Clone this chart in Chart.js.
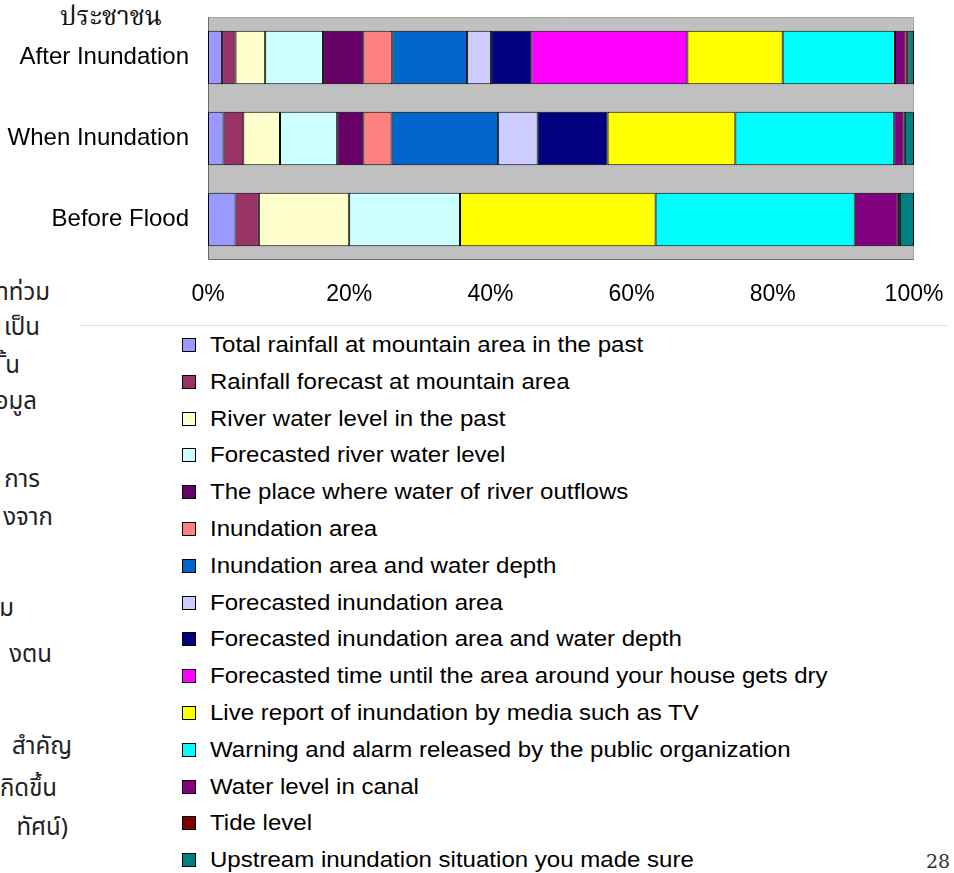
<!DOCTYPE html>
<html>
<head>
<meta charset="utf-8">
<script src="https://cdn.jsdelivr.net/npm/chart.js@4.4.1/dist/chart.umd.min.js"></script>
<style>
  html, body { margin: 0; padding: 0; background: #fff; }
  body { width: 954px; height: 873px; position: relative; overflow: hidden; font-family: "Liberation Sans", Arial, sans-serif; }
  #chart { position: absolute; left: 0; top: 0; }
  .side { position: absolute; white-space: nowrap; font-family: "Noto Sans Thai", "Loma", "Garuda", "Tlwg Typo", "DejaVu Sans", sans-serif; font-size: 24px; color: #222; line-height: 1; }
  .title { position: absolute; left: 60px; top: 5px; font-family: "Noto Serif Thai", "Norasi", "Kinnari", "Noto Sans Thai", serif; font-size: 26px; color: #111; line-height: 1; }
  .rule { position: absolute; left: 80px; top: 325px; width: 868px; height: 1px; background: #e2e2e2; }
  #legend { position: absolute; left: 182px; top: 0; margin: 0; padding: 0; list-style: none; }
  #legend li { position: absolute; left: 0; height: 24px; display: flex; align-items: center; white-space: nowrap; font-size: 22px; color: #000; }
  #legend .box { width: 12px; height: 12px; border: 1px solid #000; margin-right: 14px; flex: none; }
  #legend .txt { display: inline-block; transform: scaleX(1.093); transform-origin: left center; }
  .page { position: absolute; left: 926px; top: 850px; font-family: "DejaVu Serif", "Liberation Serif", serif; font-size: 19px; color: #333; }
</style>
</head>
<body>
<div class="title">ประชาชน</div>
<div class="side" style="right:904px;top:281px">าท่วม</div>
<div class="side" style="right:914px;top:316px">เป็น</div>
<div class="side" style="right:934px;top:354px">ั้น</div>
<div class="side" style="right:917px;top:390px">อมูล</div>
<div class="side" style="right:914px;top:468px">การ</div>
<div class="side" style="right:901px;top:506px">งจาก</div>
<div class="side" style="right:940px;top:597px">ม</div>
<div class="side" style="right:902px;top:643px">งตน</div>
<div class="side" style="right:882px;top:735px">สำคัญ</div>
<div class="side" style="right:897px;top:777px">กิดขึ้น</div>
<div class="side" style="right:886px;top:816px">ทัศน์)</div>
<div class="rule"></div>
<canvas id="chart" width="954" height="320"></canvas>
<ul id="legend"></ul>
<div class="page">28</div>
<script>
// Stages of the flood, top to bottom
const categories = ['After Inundation', 'When Inundation', 'Before Flood'];

// Kinds of information people wanted
const infoTypes = [
  'Total rainfall at mountain area in the past',
  'Rainfall forecast at mountain area',
  'River water level in the past',
  'Forecasted river water level',
  'The place where water of river outflows',
  'Inundation area',
  'Inundation area and water depth',
  'Forecasted inundation area',
  'Forecasted inundation area and water depth',
  'Forecasted time until the area around your house gets dry',
  'Live report of inundation by media such as TV',
  'Warning and alarm released by the public organization',
  'Water level in canal',
  'Tide level',
  'Upstream inundation situation you made sure'
];

// Share of answers (%) per stage, in the order of infoTypes
const afterInundation = [2.0, 1.9, 4.2, 8.2, 5.7, 4.1, 10.6, 3.4, 5.7, 22.1, 13.5, 15.9, 1.5, 0.4, 0.8];
const whenInundation  = [2.2, 2.8, 5.2, 8.1, 3.7, 4.0, 15.1, 5.6, 9.9, 0.0, 18.1, 22.5, 1.3, 0.2, 1.3];
const beforeFlood     = [3.9, 3.3, 12.8, 15.7, 0.0, 0.0, 0.0, 0.0, 0.0, 0.0, 27.7, 28.2, 6.1, 0.3, 2.0];

// Axis ticks
const tickValues = [0, 20, 40, 60, 80, 100];

const fillColors = [
  '#9999ff', '#993366', '#ffffcc', '#ccffff', '#660066',
  '#ff8080', '#0066cc', '#ccccff', '#000080', '#ff00ff',
  '#ffff00', '#00ffff', '#800080', '#800000', '#008080'
];

const datasets = infoTypes.map((name, i) => ({
  label: name,
  data: [afterInundation[i], whenInundation[i], beforeFlood[i]],
  backgroundColor: fillColors[i],
  borderColor: '#000000',
  borderWidth: 1,
  borderSkipped: false,
  categoryPercentage: 1.0,
  barPercentage: 0.66
}));

// Grey plot area with a thin frame, painted under the bars
const plotFrame = {
  id: 'plotFrame',
  beforeDraw(chart) {
    const { ctx, chartArea: a } = chart;
    ctx.save();
    ctx.fillStyle = '#c0c0c0';
    ctx.fillRect(a.left, a.top, a.width, a.height);
    ctx.lineWidth = 1;
    ctx.strokeStyle = '#a6a6a6';
    ctx.beginPath();
    ctx.moveTo(a.left, a.top + 0.5);
    ctx.lineTo(a.right - 0.5, a.top + 0.5);
    ctx.lineTo(a.right - 0.5, a.bottom);
    ctx.stroke();
    ctx.strokeStyle = '#6a6a6a';
    ctx.beginPath();
    ctx.moveTo(a.left + 0.5, a.top);
    ctx.lineTo(a.left + 0.5, a.bottom - 0.5);
    ctx.lineTo(a.right, a.bottom - 0.5);
    ctx.stroke();
    ctx.restore();
  }
};

const chart = new Chart(document.getElementById('chart'), {
  type: 'bar',
  data: { labels: categories, datasets },
  options: {
    indexAxis: 'y',
    responsive: false,
    animation: false,
    layout: { padding: { top: 17, right: 40, bottom: 0, left: 0 } },
    plugins: {
      legend: { display: false },
      tooltip: { enabled: false }
    },
    scales: {
      x: {
        stacked: true,
        min: 0,
        max: 100,
        afterBuildTicks: (scale) => { scale.ticks = tickValues.map(v => ({ value: v })); },
        afterFit: (scale) => {
          scale.height = 60;
          scale.paddingLeft = 0;
          scale.paddingRight = 0;
        },
        grid: { display: false },
        border: { display: false },
        ticks: {
          padding: 13,
          color: '#000',
          font: { family: '"Liberation Sans", Arial, sans-serif', size: 23 },
          callback: (v) => v + '%'
        }
      },
      y: {
        stacked: true,
        afterFit: (scale) => {
          scale.width = 208;
          scale.paddingTop = 0;
          scale.paddingBottom = 0;
        },
        grid: { display: false },
        border: { display: false },
        ticks: {
          padding: 11,
          color: '#000',
          font: { family: '"Liberation Sans", Arial, sans-serif', size: 24 }
        }
      }
    }
  },
  plugins: [plotFrame]
});

// Single-column legend built from the chart's datasets
const legendEl = document.getElementById('legend');
chart.data.datasets.forEach((ds, i) => {
  const li = document.createElement('li');
  li.style.top = (333 + i * 36.8) + 'px';
  const box = document.createElement('span');
  box.className = 'box';
  box.style.background = ds.backgroundColor;
  const txt = document.createElement('span');
  txt.className = 'txt';
  txt.textContent = ds.label;
  li.appendChild(box);
  li.appendChild(txt);
  legendEl.appendChild(li);
});
</script>
</body>
</html>
